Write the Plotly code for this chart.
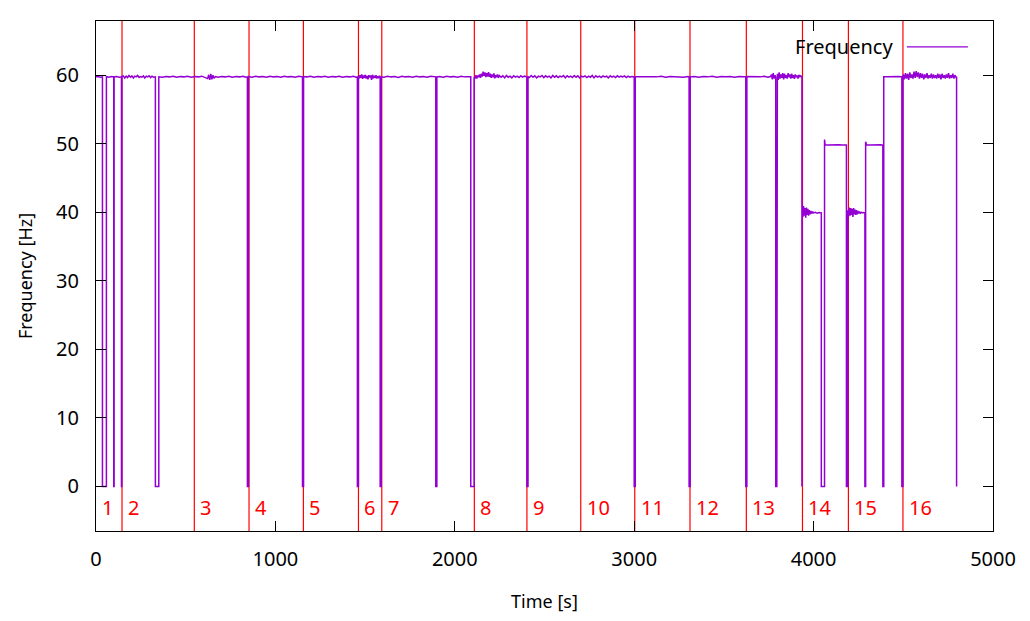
import plotly.graph_objects as go

# ---------------- data ----------------
time_s = [
    0, 12, 24, 36, 36, 58, 58, 72, 86, 99, 99, 101, 101, 115, 129, 142, 142, 144, 144,
    152, 160, 168, 176, 184, 192, 200, 208, 216, 224, 232, 240, 248, 256, 264, 272, 280, 288, 296, 304, 312, 320, 328, 331, 331, 350, 350,
    370, 390, 410, 430, 450, 470, 490, 510, 530, 550, 570, 590, 610, 622, 628, 634, 640, 646, 652, 658, 666, 680, 700, 720, 740, 760, 780, 800, 820, 835, 844, 844, 850, 850,
    870, 890, 910, 930, 950, 970, 990, 1010, 1030, 1050, 1070, 1090, 1110, 1130, 1151, 1151, 1157, 1157,
    1175, 1195, 1215, 1235, 1255, 1275, 1295, 1315, 1335, 1355, 1375, 1395, 1415, 1435, 1450, 1457, 1457, 1463, 1463,
    1466, 1471, 1476, 1481, 1486, 1491, 1496, 1501, 1506, 1511, 1516, 1521, 1526, 1531, 1536, 1541, 1546, 1551, 1556, 1561, 1566, 1571, 1576, 1581, 1584, 1584, 1590, 1590,
    1605, 1625, 1645, 1665, 1685, 1705, 1725, 1745, 1765, 1785, 1805, 1825, 1845, 1865, 1880, 1894, 1894, 1900, 1900, 1915, 1935, 1955, 1975, 1995, 2015, 2035, 2055, 2075, 2089, 2089, 2108, 2108,
    2113, 2118, 2123, 2128, 2133, 2138, 2143, 2148, 2153, 2158, 2163, 2168, 2173, 2178, 2183, 2188, 2193, 2198, 2203, 2208, 2213, 2218, 2223, 2228, 2233, 2238, 2243, 2248,
    2258, 2268, 2278, 2288, 2298, 2308, 2318, 2328, 2338, 2348, 2358, 2368, 2378, 2388, 2398, 2402, 2402, 2408, 2408,
    2416, 2426, 2436, 2446, 2456, 2466, 2476, 2486, 2496, 2506, 2516, 2526, 2536, 2546, 2556, 2566, 2576, 2586, 2596, 2606,
    2616, 2626, 2636, 2646, 2656, 2666, 2676, 2686, 2696, 2706, 2716, 2726, 2736, 2746, 2756, 2766, 2776, 2786, 2796, 2806,
    2816, 2826, 2836, 2846, 2856, 2866, 2876, 2886, 2896, 2906, 2916, 2926, 2936, 2946, 2956, 2966, 2976, 2986, 3000, 3000, 3006, 3006,
    3025, 3050, 3075, 3100, 3125, 3150, 3175, 3200, 3225, 3250, 3275, 3300, 3306, 3306, 3312, 3312,
    3335, 3360, 3385, 3410, 3435, 3460, 3485, 3510, 3535, 3560, 3585, 3610, 3622, 3622, 3628, 3628,
    3645, 3665, 3685, 3705, 3725, 3745, 3760, 3765, 3770, 3775, 3780, 3785, 3789, 3789, 3795, 3795,
    3798, 3803, 3808, 3813, 3818, 3823, 3828, 3833, 3838, 3843, 3848, 3853, 3858, 3863, 3868, 3873, 3878, 3883, 3888, 3893,
    3898, 3903, 3908, 3913, 3918, 3923, 3928, 3935, 3935, 3936,
    3936, 3940, 3944, 3948, 3952, 3956, 3960, 3964, 3968, 3972, 3976, 3980, 3985, 3990, 3995, 4000, 4010, 4020, 4030, 4043, 4043, 4061, 4061,
    4064, 4080, 4100, 4120, 4140, 4160, 4183, 4183, 4191, 4191,
    4195, 4199, 4203, 4207, 4211, 4215, 4219, 4223, 4227, 4231, 4235, 4239, 4243, 4247, 4251, 4255, 4260, 4265, 4270, 4275, 4280, 4286, 4286, 4290, 4290,
    4295, 4315, 4335, 4355, 4375, 4386, 4386, 4391, 4391,
    4410, 4430, 4450, 4470, 4488, 4492, 4492, 4498, 4498,
    4500, 4506, 4512, 4518, 4524, 4530, 4536, 4542, 4548, 4554,
    4560, 4566, 4572, 4578, 4584, 4590, 4596, 4602, 4608, 4614,
    4620, 4626, 4632, 4638, 4644, 4650, 4656, 4662, 4668, 4674,
    4680, 4686, 4692, 4698, 4704, 4710, 4716, 4722, 4728, 4734,
    4740, 4746, 4752, 4758, 4764, 4770, 4776, 4782, 4788, 4794,
    4797, 4797,
]
freq_hz = [
    59.75, 59.8, 59.7, 59.75, 0, 0, 59.8, 59.7, 59.8, 59.75, 0, 0, 59.75, 59.8, 59.7, 59.75, 0, 0, 59.8,
    59.9, 59.6, 59.85, 59.65, 59.95, 59.7, 59.9, 59.6, 59.85, 59.75, 59.95, 59.65, 59.8, 59.7, 59.9, 59.6, 59.85, 59.75, 59.9, 59.65, 59.85, 59.7, 59.8, 59.75, 0, 0, 59.75,
    59.7, 59.8, 59.75, 59.85, 59.7, 59.8, 59.75, 59.85, 59.7, 59.8, 59.75, 59.85, 59.7, 59.5, 60.05, 59.3, 60.2, 59.4, 60.0, 59.55, 59.8, 59.7, 59.8, 59.75, 59.85, 59.7, 59.8, 59.75, 59.85, 59.7, 59.75, 0, 0, 59.8,
    59.7, 59.85, 59.75, 59.8, 59.7, 59.85, 59.75, 59.8, 59.7, 59.85, 59.75, 59.8, 59.7, 59.85, 59.75, 0, 0, 59.8,
    59.75, 59.85, 59.7, 59.8, 59.75, 59.85, 59.7, 59.8, 59.75, 59.85, 59.7, 59.8, 59.75, 59.85, 59.7, 59.75, 0, 0, 59.9,
    59.5, 60.0, 59.6, 60.1, 59.45, 59.95, 59.6, 60.05, 59.5, 59.9, 59.4, 60.0, 59.65, 59.95, 59.3, 60.05, 59.55, 59.9, 59.6, 60.0, 59.5, 59.85, 59.65, 59.9, 59.7, 0, 0, 59.75,
    59.7, 59.85, 59.75, 59.8, 59.65, 59.85, 59.75, 59.8, 59.7, 59.85, 59.75, 59.8, 59.7, 59.85, 59.75, 59.75, 0, 0, 59.75, 59.8, 59.7, 59.85, 59.75, 59.8, 59.7, 59.85, 59.75, 59.8, 59.75, 0, 0, 59.7,
    59.6, 60.0, 59.5, 59.95, 59.7, 60.1, 59.6, 60.2, 59.8, 60.5, 59.9, 60.4, 59.7, 60.3, 59.8, 60.45, 59.75, 60.2, 59.6, 60.1, 59.7, 60.25, 59.55, 60.0, 59.7, 60.1, 59.6, 59.95,
    59.7, 59.9, 59.6, 59.95, 59.7, 59.85, 59.6, 59.9, 59.7, 59.85, 59.65, 59.9, 59.7, 59.85, 59.75, 59.75, 0, 0, 59.8,
    59.65, 59.95, 59.7, 59.9, 59.6, 59.85, 59.75, 59.95, 59.65, 59.9, 59.7, 59.85, 59.6, 59.95, 59.7, 59.9, 59.65, 59.85, 59.75, 59.95,
    59.6, 59.9, 59.7, 59.85, 59.65, 59.95, 59.7, 59.9, 59.6, 59.85, 59.75, 59.9, 59.65, 59.85, 59.7, 59.95, 59.6, 59.9, 59.7, 59.85,
    59.65, 59.9, 59.75, 59.85, 59.6, 59.9, 59.7, 59.85, 59.65, 59.9, 59.7, 59.85, 59.75, 59.9, 59.65, 59.85, 59.7, 59.8, 59.75, 0, 0, 59.75,
    59.75, 59.8, 59.7, 59.8, 59.75, 59.85, 59.7, 59.8, 59.75, 59.8, 59.7, 59.8, 59.75, 0, 0, 59.75,
    59.8, 59.7, 59.8, 59.75, 59.85, 59.7, 59.8, 59.75, 59.8, 59.7, 59.8, 59.75, 59.75, 0, 0, 59.8,
    59.8, 59.7, 59.8, 59.75, 59.85, 59.7, 59.8, 60.1, 59.4, 60.3, 59.5, 60.0, 59.7, 0, 0, 59.6,
    60.2, 59.3, 60.4, 59.5, 60.1, 59.6, 60.3, 59.4, 60.2, 59.6, 60.0, 59.5, 60.3, 59.7, 60.1, 59.5, 60.2, 59.6, 60.0, 59.45,
    60.1, 59.7, 59.95, 59.5, 60.05, 59.7, 59.9, 59.75, 0, 0,
    40.4, 39.3, 40.9, 39.5, 40.6, 39.2, 40.7, 39.6, 40.5, 39.5, 40.3, 39.7, 40.2, 39.8, 40.1, 39.9, 40.0, 39.85, 39.95, 39.9, 0, 0, 50.6,
    49.85, 49.8, 49.85, 49.8, 49.85, 49.8, 49.8, 0, 0, 40.3,
    39.4, 40.7, 39.5, 40.6, 39.6, 40.5, 39.3, 40.6, 39.7, 40.4, 39.6, 40.3, 39.7, 40.2, 39.8, 40.1, 39.85, 40.0, 39.9, 39.95, 39.9, 39.9, 0, 0, 50.3,
    49.85, 49.8, 49.85, 49.8, 49.85, 49.8, 0, 0, 59.75,
    59.75, 59.8, 59.75, 59.8, 59.75, 59.75, 0, 0, 59.6,
    60.1, 59.4, 60.3, 59.5, 60.2, 59.3, 60.4, 59.6, 60.1, 59.5,
    60.5, 59.6, 60.6, 59.7, 60.4, 59.5, 60.3, 59.6, 60.2, 59.4,
    60.1, 59.6, 60.3, 59.5, 60.0, 59.6, 60.2, 59.5, 60.1, 59.6,
    60.0, 59.5, 60.2, 59.6, 60.1, 59.4, 60.2, 59.6, 60.0, 59.5,
    60.1, 59.6, 60.3, 59.5, 60.0, 59.6, 60.2, 59.5, 60.0, 59.7,
    59.75, 0,
]
assert len(time_s) == len(freq_hz), (len(time_s), len(freq_hz))

boundary_s = [145, 548, 853, 1156, 1463, 1593, 2109, 2402, 2702, 3003, 3311, 3625, 3938, 4194, 4498]
segment_labels = ["1", "2", "3", "4", "5", "6", "7", "8", "9", "10", "11", "12", "13", "14", "15", "16"]
segment_starts = [0] + boundary_s
label_y = -3.0

x_ticks = [0, 1000, 2000, 3000, 4000, 5000]
y_ticks = [0, 10, 20, 30, 40, 50, 60]
x_range = [0, 5000]
y_range = [-6.5, 67.9]

series_name = "Frequency"
x_title = "Time [s]"
y_title = "Frequency [Hz]"

# ---------------- styles ----------------
FONT = "Noto Sans"
TRACE_COLOR = "#9400d3"
MARK_COLOR = "#ff0000"
FS = 20

fig = go.Figure()
fig.add_trace(go.Scatter(
    x=time_s, y=freq_hz, mode="lines", name=series_name,
    line=dict(color=TRACE_COLOR, width=1.5), showlegend=False,
))

shapes = []
for b in boundary_s:
    shapes.append(dict(type="line", xref="x", yref="paper", x0=b, x1=b, y0=0, y1=1,
                       line=dict(color=MARK_COLOR, width=1.2), layer="below"))
# legend sample line (gnuplot style: text then sample)
shapes.append(dict(type="line", xref="paper", yref="paper", x0=0.904, x1=0.972, y0=0.9492, y1=0.9492,
                   line=dict(color=TRACE_COLOR, width=1.3)))

annotations = []
for s, lab in zip(segment_starts, segment_labels):
    annotations.append(dict(x=s, y=label_y, xref="x", yref="y", text=lab, showarrow=False,
                            xanchor="left", yanchor="middle", xshift=4,
                            font=dict(family=FONT, size=FS, color=MARK_COLOR)))
annotations.append(dict(x=0.891, y=0.9492, xref="paper", yref="paper", text=series_name,
                        showarrow=False, xanchor="right", yanchor="middle",
                        font=dict(family=FONT, size=FS, color="black")))

axis_common = dict(
    showline=True, linecolor="black", linewidth=1.3, mirror="allticks",
    ticks="inside", ticklen=10, tickwidth=1.2, tickcolor="black",
    showgrid=False, zeroline=False,
    tickfont=dict(family=FONT, size=FS, color="black"),
)

fig.update_layout(
    width=1030, height=621,
    margin=dict(l=96, r=37, t=21, b=88),
    paper_bgcolor="white", plot_bgcolor="white",
    font=dict(family=FONT, size=FS, color="black"),
    shapes=shapes, annotations=annotations,
    xaxis=dict(range=x_range, tickvals=x_ticks, ticklabelstandoff=10,
               title=dict(text=x_title, standoff=24, font=dict(family=FONT, size=18)),
               **axis_common),
    yaxis=dict(range=y_range, tickvals=y_ticks, ticklabelstandoff=12,
               title=dict(text=y_title, standoff=18, font=dict(family=FONT, size=18)),
               **axis_common),
)

fig.write_html("out.html")
